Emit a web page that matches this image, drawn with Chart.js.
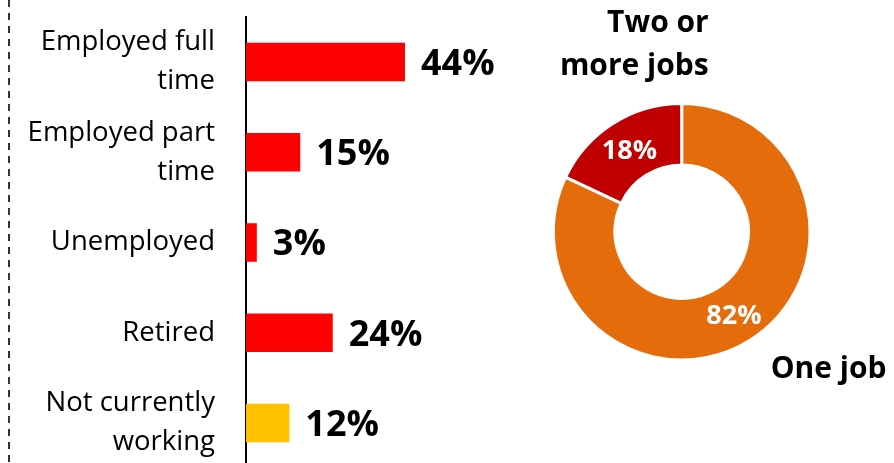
<!DOCTYPE html>
<html><head><meta charset="utf-8">
<script src="https://cdn.jsdelivr.net/npm/chart.js@4.4.1/dist/chart.umd.min.js"></script>
<style>
html,body{margin:0;padding:0;width:894px;height:463px;overflow:hidden;background:#fff;}
#barWrap{position:absolute;left:0;top:0;width:540px;height:470px;}
#pieWrap{position:absolute;left:540px;top:0;width:354px;height:463px;}
</style></head><body>
<div id="barWrap"><canvas id="bar"></canvas></div>
<div id="pieWrap"><canvas id="pie"></canvas></div>
<script>
const statusCategories = [["Employed full","time"],["Employed part","time"],"Unemployed","Retired",["Not currently","working"]];
const statusValues = [44, 15, 3, 24, 12];
const statusColors = ["#FF0000","#FF0000","#FF0000","#FF0000","#FFC000"];

const jobCategories = ["One job","Two or more jobs"];
const jobValues = [82, 18];
const jobColors = ["#E46C0A","#C00000"];
const jobLabelLines = [["One job"],["Two or","more jobs"]];

const FONT = "'Open Sans', Lato, sans-serif";

const dashedEdge = {
  id:'dashedEdge',
  beforeDraw(chart){
    const ctx = chart.ctx;
    ctx.save();
    ctx.strokeStyle = '#333333';
    ctx.lineWidth = 2;
    ctx.setLineDash([7,6]);
    ctx.beginPath();
    ctx.moveTo(9, 0);
    ctx.lineTo(9, chart.height);
    ctx.stroke();
    ctx.restore();
  }
};

const barLabels = {
  id:'barLabels',
  afterDatasetsDraw(chart){
    const ctx = chart.ctx;
    const meta = chart.getDatasetMeta(0);
    const size = 36;
    ctx.save();
    ctx.font = "bold " + size + "px " + FONT;
    ctx.fillStyle = '#000';
    ctx.textAlign = 'left';
    ctx.textBaseline = 'alphabetic';
    meta.data.forEach((el, i) => {
      ctx.fillText(statusValues[i] + '%', el.x + 16, el.y + 0.36 * size);
    });
    ctx.restore();
  }
};

new Chart(document.getElementById('bar'), {
  type:'bar',
  data:{
    labels: statusCategories,
    datasets:[{
      data: statusValues,
      backgroundColor: statusColors,
      borderWidth: 0,
      barPercentage: 0.427,
      categoryPercentage: 1
    }]
  },
  options:{
    indexAxis:'y',
    responsive:true,
    maintainAspectRatio:false,
    animation:false,
    layout:{padding:{left:0,right:41,top:17,bottom:2}},
    plugins:{legend:{display:false},tooltip:{enabled:false}},
    scales:{
      x:{display:false,min:0,max:70},
      y:{
        afterFit:(s)=>{ s.width = 246; s.paddingTop = 0; s.paddingBottom = 0; },
        grid:{display:false,drawTicks:false},
        border:{display:true,color:'#000',width:2},
        ticks:{padding:31,color:'#000',font:{family:FONT,size:27.5,lineHeight:1.42}}
      }
    }
  },
  plugins:[dashedEdge, barLabels]
});

const pieLabels = {
  id:'pieLabels',
  afterDatasetsDraw(chart){
    const ctx = chart.ctx;
    const meta = chart.getDatasetMeta(0);
    const inSize = 27;
    ctx.save();
    ctx.fillStyle = '#fff';
    ctx.font = "bold " + inSize + "px " + FONT;
    ctx.textAlign = 'center';
    ctx.textBaseline = 'alphabetic';
    meta.data.forEach((arc, i) => {
      const p = arc.tooltipPosition();
      ctx.fillText(jobValues[i] + '%', p.x, p.y + 0.36 * inSize);
    });
    const a0 = meta.data[0];
    const cx = a0.x, cy = a0.y, R = a0.outerRadius;
    ctx.fillStyle = '#000';
    ctx.font = "bold 30px " + FONT;
    // One job (first slice) below-right
    ctx.textAlign = 'left';
    ctx.fillText(jobLabelLines[0][0], cx + 0.694 * R, cy + 1.14 * R);
    // Two or more jobs (second slice) above
    ctx.textAlign = 'right';
    const lines = jobLabelLines[1];
    const lh = 43;
    const baseLast = cy - R - 28;
    lines.forEach((t, k) => {
      ctx.fillText(t, cx + 27, baseLast - (lines.length - 1 - k) * lh);
    });
    ctx.restore();
  }
};

new Chart(document.getElementById('pie'), {
  type:'doughnut',
  data:{
    labels: jobCategories,
    datasets:[{
      data: jobValues,
      backgroundColor: jobColors,
      borderColor:'#fff',
      borderWidth:3
    }]
  },
  options:{
    responsive:true,
    maintainAspectRatio:false,
    animation:false,
    cutout:'52%',
    layout:{padding:{left:11.9,right:82.5,top:101.9,bottom:101.5}},
    plugins:{legend:{display:false},tooltip:{enabled:false}}
  },
  plugins:[pieLabels]
});
</script>
</body></html>
